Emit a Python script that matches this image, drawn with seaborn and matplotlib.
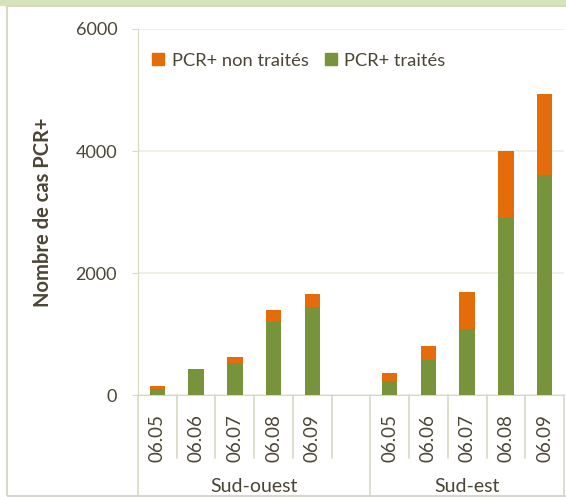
import pandas as pd
import matplotlib
matplotlib.use("Agg")
import matplotlib.pyplot as plt
import matplotlib.transforms as mtransforms
from matplotlib.patches import Rectangle, Patch
import seaborn as sns

# data
dates = ["06.05", "06.06", "06.07", "06.08", "06.09"]
regions = ["Sud-ouest", "Sud-est"]
traites_so = [100, 420, 530, 1200, 1450]
total_so = [150, 430, 620, 1390, 1660]
traites_se = [225, 570, 1090, 2900, 3600]
total_se = [355, 800, 1685, 4000, 4940]

orange = "#E46C0A"
green = "#77933C"
text_col = "#4a4535"
grid_col = "#eeeee4"
line_col = "#d9d8c4"

rows = []
for d, t, tot in zip(dates, traites_so, total_so):
    rows.append({"slot": "Sud-ouest " + d, "traites": t, "total": tot})
for d, t, tot in zip(dates, traites_se, total_se):
    rows.append({"slot": "Sud-est " + d, "traites": t, "total": tot})
df = pd.DataFrame(rows)

# one empty slot between the two groups
order = ["Sud-ouest " + d for d in dates] + ["gap"] + ["Sud-est " + d for d in dates]

sns.set_style("white")
plt.rcParams["font.family"] = ["Lato", "DejaVu Sans"]

fig = plt.figure(figsize=(5.66, 4.97), dpi=100)

# outer frame of the picture
fig.patches.append(Rectangle((0, 0.99), 1, 0.01, transform=fig.transFigure,
                             color="#d6e4bc", zorder=0))
fig.patches.append(Rectangle((7 / 566, 0.002), 1.2, (492 - 2) / 497,
                             transform=fig.transFigure, fill=False,
                             edgecolor=line_col, lw=1.5, zorder=0))

ax = fig.add_axes([138 / 566, (497 - 395) / 497, 426 / 566, 366 / 497])

sns.barplot(data=df, x="slot", y="total", order=order, color=orange,
            width=0.4, saturation=1, linewidth=0, ax=ax, zorder=2)
sns.barplot(data=df, x="slot", y="traites", order=order, color=green,
            width=0.4, saturation=1, linewidth=0, ax=ax, zorder=3)

ax.set_ylim(0, 6000)
ax.set_yticks([0, 2000, 4000, 6000])
ax.set_xlim(-0.5, len(order) - 0.5)
ax.yaxis.grid(True, color=grid_col, lw=1.2, zorder=0)
ax.set_axisbelow(True)

for s in ["top", "right"]:
    ax.spines[s].set_visible(False)
ax.spines["left"].set_color(line_col)
ax.spines["bottom"].set_color(line_col)

ax.tick_params(axis="y", left=True, length=4, color=line_col, pad=11,
               labelsize=13, labelcolor=text_col)
labels = dates + [""] + dates
ax.set_xticks(range(len(order)))
ax.set_xticklabels(labels, rotation=90, fontsize=13.5, color=text_col)
ax.tick_params(axis="x", bottom=False, pad=10)
ax.set_xlabel("")
ax.set_ylabel("Nombre de cas PCR+", fontsize=14.5, fontweight="bold",
              color=text_col, labelpad=16)

# multi-level category axis lines
trans = mtransforms.blended_transform_factory(ax.transData, ax.transAxes)
for i in range(len(order) + 1):
    x = i - 0.5
    if i in (0, 6, 11):
        ax.plot([x, x], [0, -0.277], color=line_col, lw=1.2,
                transform=trans, clip_on=False)
    else:
        ax.plot([x, x], [0, -0.172], color=line_col, lw=1.2,
                transform=trans, clip_on=False)

ax.text(2.5, -0.250, regions[0], transform=trans, ha="center", va="center",
        fontsize=14, color=text_col)
ax.text(8, -0.250, regions[1], transform=trans, ha="center", va="center",
        fontsize=14, color=text_col)

handles = [Patch(color=orange, label="PCR+ non traités"),
           Patch(color=green, label="PCR+ traités")]
ax.legend(handles=handles, loc="upper left", bbox_to_anchor=(-0.005, 0.98),
          ncol=2, frameon=False, fontsize=13.2, handlelength=0.65,
          handleheight=0.65, handletextpad=0.4, columnspacing=0.9,
          labelcolor=text_col)

fig.savefig("out.png", dpi=100)
